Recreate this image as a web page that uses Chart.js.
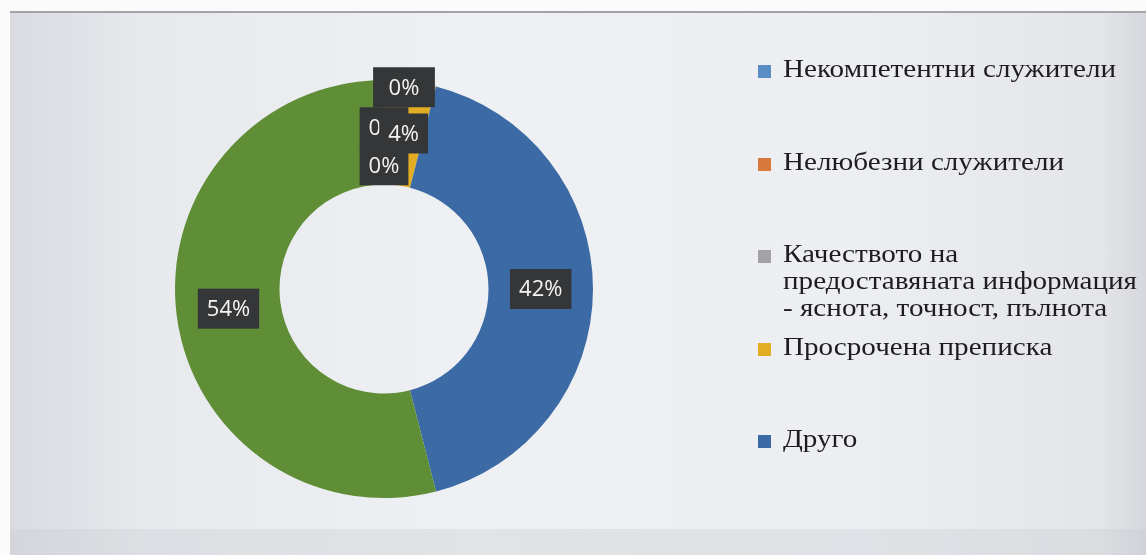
<!DOCTYPE html>
<html>
<head>
<meta charset="utf-8">
<script src="https://cdn.jsdelivr.net/npm/chart.js@4"></script>
<style>
  html, body { margin: 0; padding: 0; width: 1146px; height: 555px; overflow: hidden; background: #fbfbfc; }
  #panel {
    position: absolute; left: 10px; top: 11px; right: 0; bottom: 0;
    border-top: 2px solid #a3a4a8;
    background: linear-gradient(90deg, #d9dbe1 0%, #e8e9ed 12%, #eff0f3 40%, #eceef1 75%, #e4e5e9 96%, #d6d7dc 100%);
  }
  #panel::after {
    content: ''; position: absolute; left: 0; right: 0; bottom: 0; height: 26px;
    background: rgba(200, 202, 208, 0.35);
  }
  #chartBox { position: absolute; left: 0; top: 0; width: 768px; height: 555px; }
  #legend {
    position: absolute; left: 758px; top: 55px;
    font-family: "Liberation Serif", "Times New Roman", serif; font-size: 26px; line-height: 27px;
    color: #1d1d1f;
  }
  .item { height: 92.5px; display: flex; align-items: flex-start; }
  .swatch { width: 13px; height: 13px; margin-top: 10px; margin-right: 12px; flex: none; }
  .label { white-space: pre-line; transform: scaleX(1.12); transform-origin: 0 0; }
</style>
</head>
<body>
<div id="panel"></div>
<div id="chartBox"><canvas id="donut"></canvas></div>
<div id="legend"></div>
<script>
// categories and their shares (percent)
const categories = [
  'Некомпетентни служители',
  'Нелюбезни служители',
  'Качеството на\nпредоставяната информация\n- яснота, точност, пълнота',
  'Просрочена преписка',
  'Друго',
  ''
];
const shares = [0, 0, 0, 4, 42, 54];
const sliceColors = ['#5a8cc6', '#d8793b', '#a3a3a5', '#e2ad22', '#3c6aa5', '#5f8e37'];

// zero-valued labels get stacked above the ring start: [dx, dy, extra box width]
const zeroOffsets = [[20, -45, 13], [0, -5, 0], [0, 33, 0]];

// legend on the right (the last category has no legend entry)
const legendEl = document.getElementById('legend');
categories.forEach((name, i) => {
  if (!name) return;
  const row = document.createElement('div');
  row.className = 'item';
  row.innerHTML = `<div class="swatch" style="background:${sliceColors[i]}"></div><div class="label"></div>`;
  row.querySelector('.label').textContent = name;
  legendEl.appendChild(row);
});

const percentLabels = {
  id: 'percentLabels',
  afterDatasetsDraw(chart) {
    const ctx = chart.ctx;
    const arcs = chart.getDatasetMeta(0).data;
    ctx.save();
    ctx.font = '22px "Open Sans", sans-serif';
    ctx.textAlign = 'center';
    ctx.textBaseline = 'middle';

    // zeros first, so the non-zero boxes are painted over them
    const order = shares.map((v, i) => i).sort((a, b) => (shares[a] === 0 ? 0 : 1) - (shares[b] === 0 ? 0 : 1));
    let z = 0;
    order.forEach(i => {
      const p = arcs[i].tooltipPosition();
      let x = p.x, y = p.y, extra = 0;
      if (shares[i] === 0) {
        const off = zeroOffsets[z++] || [0, 0, 0];
        x += off[0]; y += off[1]; extra = off[2];
      }
      const text = shares[i] + '%';
      const w = ctx.measureText(text).width + 18 + extra;
      const h = 40;
      ctx.fillStyle = '#353638';
      ctx.fillRect(x - w / 2, y - h / 2, w, h);
      ctx.fillStyle = '#f4f4f4';
      ctx.fillText(text, x, y + 1);
    });
    ctx.restore();
  }
};

new Chart(document.getElementById('donut'), {
  type: 'doughnut',
  data: {
    labels: categories,
    datasets: [{
      data: shares,
      backgroundColor: sliceColors,
      borderWidth: 0
    }]
  },
  options: {
    responsive: true,
    maintainAspectRatio: false,
    animation: false,
    cutout: '50%',
    layout: { padding: { left: 175, right: 175, top: 80, bottom: 57 } },
    plugins: {
      legend: { display: false },
      tooltip: { enabled: false }
    }
  },
  plugins: [percentLabels]
});
</script>
</body>
</html>
